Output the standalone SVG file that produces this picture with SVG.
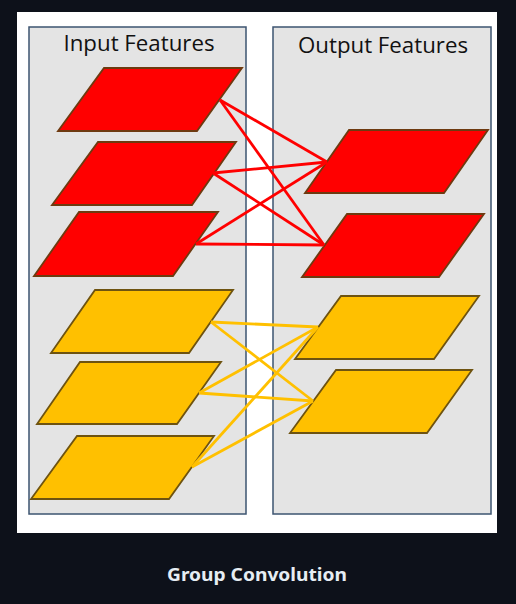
<svg xmlns="http://www.w3.org/2000/svg" width="516" height="604" viewBox="0 0 516 604">
<style>
.box{fill:#e4e4e4;stroke:#3d5470;stroke-width:1.5}
.title{font-family:"Open Sans","Noto Sans","Liberation Sans",sans-serif;font-size:22px;fill:#111111}
.red{fill:#ff0000;stroke:#6e3a10;stroke-width:1.8;stroke-linejoin:miter}
.yel{fill:#ffc000;stroke:#6e5310;stroke-width:1.8;stroke-linejoin:miter}
.rl{stroke:#ff0000;stroke-width:2.8;fill:none}
.yl{stroke:#ffc000;stroke-width:2.8;fill:none}
.cap{font-family:"Noto Sans","Open Sans","Liberation Sans",sans-serif;font-size:18px;font-weight:bold;fill:#e6edf3}
</style>
<rect x="0" y="0" width="516" height="604" fill="#0d111a"/>
<rect x="17" y="12" width="480" height="521" fill="#ffffff"/>
<g id="input-box">
<rect class="box" x="29" y="27" width="217" height="487"/>
<text class="title" x="139" y="51" text-anchor="middle" textLength="151" lengthAdjust="spacingAndGlyphs">Input Features</text>
</g>
<g id="output-box">
<rect class="box" x="273" y="27" width="218" height="487"/>
<text class="title" x="383" y="53" text-anchor="middle" textLength="170" lengthAdjust="spacingAndGlyphs">Output Features</text>
</g>
<g id="in-red-1"><polygon class="red" points="104,68 242,68 197,131 58,131"/></g>
<g id="in-red-2"><polygon class="red" points="98,142 236,142 192,205 52,205"/></g>
<g id="in-red-3"><polygon class="red" points="79,212 218,212 173,276 34,276"/></g>
<g id="in-yel-1"><polygon class="yel" points="95,290 233,290 189,353 51,353"/></g>
<g id="in-yel-2"><polygon class="yel" points="80,362 221,362 177,424 37,424"/></g>
<g id="in-yel-3"><polygon class="yel" points="77,436 214,436 169,499 31,499"/></g>
<g id="out-red-1"><polygon class="red" points="349,130 488,130 444,193 305,193"/></g>
<g id="out-red-2"><polygon class="red" points="347,214 484,214 439,277 302,277"/></g>
<g id="out-yel-1"><polygon class="yel" points="341,296 479,296 434,359 295,359"/></g>
<g id="out-yel-2"><polygon class="yel" points="336,370 472,370 427,433 290,433"/></g>
<g id="connectors">
<line class="rl" x1="220" y1="100" x2="327" y2="162"/>
<line class="rl" x1="220" y1="100" x2="324" y2="245"/>
<line class="rl" x1="213" y1="173" x2="327" y2="162"/>
<line class="rl" x1="213" y1="173" x2="324" y2="245"/>
<line class="rl" x1="196" y1="244" x2="327" y2="162"/>
<line class="rl" x1="196" y1="244" x2="324" y2="245"/>
<line class="yl" x1="211" y1="322" x2="318" y2="327"/>
<line class="yl" x1="211" y1="322" x2="313" y2="401"/>
<line class="yl" x1="199" y1="393" x2="318" y2="327"/>
<line class="yl" x1="199" y1="393" x2="313" y2="401"/>
<line class="yl" x1="192" y1="467" x2="318" y2="327"/>
<line class="yl" x1="192" y1="467" x2="313" y2="401"/>
</g>
<text class="cap" x="257" y="581" text-anchor="middle" textLength="180" lengthAdjust="spacingAndGlyphs">Group Convolution</text>
</svg>
